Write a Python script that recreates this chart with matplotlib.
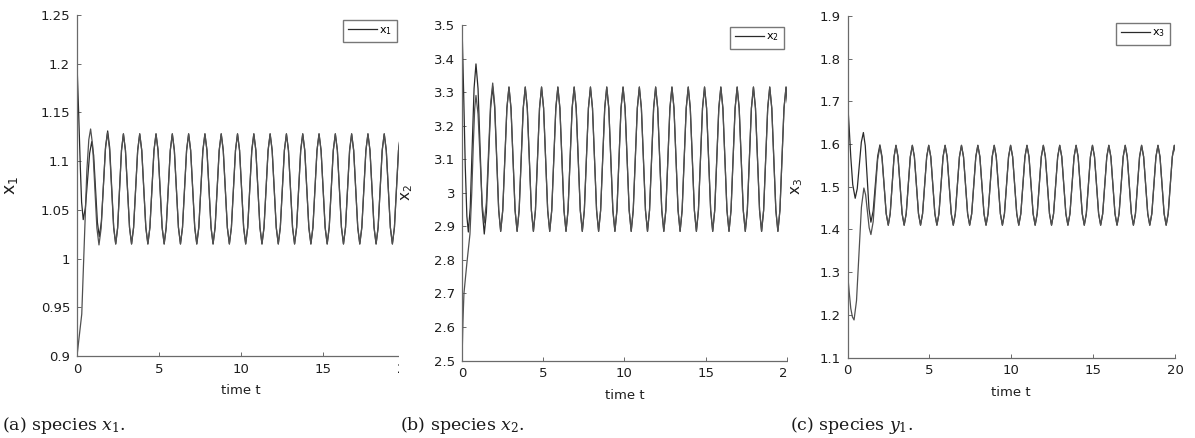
import numpy as np
import matplotlib
matplotlib.use('Agg')
import matplotlib.pyplot as plt
from matplotlib.patches import Rectangle

plt.rcParams['font.family'] = ['DejaVu Sans']
plt.rcParams['mathtext.fontset'] = 'dejavuserif'

# ---------------- data ----------------
xticks = [0, 5, 10, 15, 20]
xlabel = 'time t'

# panel (a): species x1
a_yticks = [0.9, 0.95, 1.0, 1.05, 1.1, 1.15, 1.2, 1.25]
a_yticklabels = ['0.9', '0.95', '1', '1.05', '1.1', '1.15', '1.2', '1.25']
a_tA = [0, 0.10, 0.20, 0.28, 0.38, 0.51, 0.64, 0.77, 0.90, 1.015, 1.13, 1.245, 1.36,
        1.4875, 1.615, 1.7425, 1.87, 1.9925, 2.115, 2.2375, 2.36, 2.4775, 2.595, 2.7125]
a_yA = [1.200, 1.150, 1.095, 1.058, 1.040, 1.052, 1.080, 1.108, 1.120, 1.106, 1.071, 1.037, 1.0225,
        1.038, 1.077, 1.115, 1.131, 1.114, 1.073, 1.032, 1.015, 1.0315, 1.0715, 1.111]
a_tB = [0, 0.29, 0.45, 0.60, 0.72, 0.83, 0.9575, 1.085, 1.2125, 1.34, 1.47, 1.60, 1.73, 1.86,
        1.985, 2.11, 2.235, 2.36, 2.4775, 2.595, 2.7125]
a_yB = [0.900, 0.943, 1.020, 1.090, 1.122, 1.133, 1.1156, 1.0735, 1.0314, 1.014, 1.0308, 1.0715, 1.112, 1.129,
        1.112, 1.072, 1.032, 1.015, 1.0315, 1.0715, 1.111]
a_tail_start, a_tail_step = 2.83, 0.12425
a_tail = [
    1.128, 1.111, 1.072, 1.032, 1.015, 1.032, 1.072, 1.111,
    1.128, 1.111, 1.072, 1.032, 1.015, 1.032, 1.072, 1.111,
    1.128, 1.111, 1.072, 1.032, 1.015, 1.032, 1.072, 1.111,
    1.128, 1.111, 1.072, 1.032, 1.015, 1.032, 1.072, 1.111,
    1.128, 1.111, 1.072, 1.032, 1.015, 1.032, 1.072, 1.111,
    1.128, 1.111, 1.072, 1.032, 1.015, 1.032, 1.072, 1.111,
    1.128, 1.111, 1.072, 1.032, 1.015, 1.032, 1.072, 1.111,
    1.128, 1.111, 1.072, 1.032, 1.015, 1.032, 1.072, 1.111,
    1.128, 1.111, 1.072, 1.032, 1.015, 1.032, 1.072, 1.111,
    1.128, 1.111, 1.072, 1.032, 1.015, 1.032, 1.072, 1.111,
    1.128, 1.111, 1.072, 1.032, 1.015, 1.032, 1.072, 1.111,
    1.128, 1.111, 1.072, 1.032, 1.015, 1.032, 1.072, 1.111,
    1.128, 1.111, 1.072, 1.032, 1.015, 1.032, 1.072, 1.111,
    1.128, 1.111, 1.072, 1.032, 1.015, 1.032, 1.072, 1.111,
    1.128, 1.111, 1.072, 1.032, 1.015, 1.032, 1.072, 1.111,
    1.128, 1.111, 1.072, 1.032, 1.015, 1.032, 1.072, 1.111,
    1.128, 1.111, 1.072, 1.032, 1.015, 1.032, 1.072, 1.111,
    1.128, 1.111, 1.072, 1.032]

# panel (b): species x2
b_yticks = [2.5, 2.6, 2.7, 2.8, 2.9, 3.0, 3.1, 3.2, 3.3, 3.4, 3.5]
b_yticklabels = ['2.5', '2.6', '2.7', '2.8', '2.9', '3', '3.1', '3.2', '3.3', '3.4', '3.5']
b_tA = [0, 0.10, 0.20, 0.30, 0.39, 0.5075, 0.625, 0.7425, 0.86, 0.9875, 1.115, 1.2425, 1.37,
        1.50, 1.63, 1.76, 1.89, 2.0125, 2.135, 2.2575, 2.38, 2.5075, 2.635, 2.7625]
b_yA = [3.500, 3.300, 3.080, 2.930, 2.883, 2.956, 3.1335, 3.311, 3.384, 3.310, 3.1305, 2.951, 2.877,
        2.941, 3.0965, 3.252, 3.316, 3.253, 3.1005, 2.948, 2.885, 2.948, 3.100, 3.252]
b_tB = [0, 0.06, 0.12, 0.30, 0.49, 0.60, 0.70, 0.78, 0.86, 0.9875, 1.115, 1.2425, 1.37,
        1.50, 1.63, 1.76, 1.89, 2.0125, 2.135, 2.2575, 2.38, 2.5075, 2.635, 2.7625]
b_yB = [2.500, 2.620, 2.700, 2.790, 2.877, 3.000, 3.150, 3.250, 3.290, 3.2345, 3.100, 2.9655, 2.910,
        2.971, 3.1185, 3.266, 3.327, 3.262, 3.106, 2.950, 2.885, 2.948, 3.100, 3.252]
b_tail_start, b_tail_step = 2.89, 0.125375
b_tail = [
    3.315, 3.252, 3.100, 2.948, 2.885, 2.948, 3.100, 3.252,
    3.315, 3.252, 3.100, 2.948, 2.885, 2.948, 3.100, 3.252,
    3.315, 3.252, 3.100, 2.948, 2.885, 2.948, 3.100, 3.252,
    3.315, 3.252, 3.100, 2.948, 2.885, 2.948, 3.100, 3.252,
    3.315, 3.252, 3.100, 2.948, 2.885, 2.948, 3.100, 3.252,
    3.315, 3.252, 3.100, 2.948, 2.885, 2.948, 3.100, 3.252,
    3.315, 3.252, 3.100, 2.948, 2.885, 2.948, 3.100, 3.252,
    3.315, 3.252, 3.100, 2.948, 2.885, 2.948, 3.100, 3.252,
    3.315, 3.252, 3.100, 2.948, 2.885, 2.948, 3.100, 3.252,
    3.315, 3.252, 3.100, 2.948, 2.885, 2.948, 3.100, 3.252,
    3.315, 3.252, 3.100, 2.948, 2.885, 2.948, 3.100, 3.252,
    3.315, 3.252, 3.100, 2.948, 2.885, 2.948, 3.100, 3.252,
    3.315, 3.252, 3.100, 2.948, 2.885, 2.948, 3.100, 3.252,
    3.315, 3.252, 3.100, 2.948, 2.885, 2.948, 3.100, 3.252,
    3.315, 3.252, 3.100, 2.948, 2.885, 2.948, 3.100, 3.252,
    3.315, 3.252, 3.100, 2.948, 2.885, 2.948, 3.100, 3.252,
    3.315, 3.252, 3.100, 2.948, 2.885, 2.948, 3.100, 3.252,
    3.315, 3.252]

# panel (c): species x3
c_yticks = [1.1, 1.2, 1.3, 1.4, 1.5, 1.6, 1.7, 1.8, 1.9]
c_yticklabels = ['1.1', '1.2', '1.3', '1.4', '1.5', '1.6', '1.7', '1.8', '1.9']
c_tA = [0, 0.10, 0.20, 0.32, 0.47, 0.595, 0.72, 0.845, 0.97, 1.085, 1.20, 1.315, 1.43,
        1.5675, 1.705, 1.8425, 1.98, 2.1075, 2.235, 2.3625, 2.49, 2.6075, 2.725, 2.8425]
c_yA = [1.703, 1.640, 1.570, 1.505, 1.473, 1.4955, 1.550, 1.6045, 1.627, 1.596, 1.522, 1.448, 1.417,
        1.4434, 1.5075, 1.5716, 1.598, 1.5706, 1.504, 1.4374, 1.410, 1.437, 1.5035, 1.570]
c_tB = [0, 0.10, 0.20, 0.30, 0.40, 0.55, 0.70, 0.85, 1.00, 1.1075, 1.215, 1.3225, 1.43,
        1.5675, 1.705, 1.8425, 1.98, 2.1075, 2.235, 2.3625, 2.49, 2.6075, 2.725, 2.8425]
c_yB = [1.299, 1.255, 1.215, 1.195, 1.188, 1.233, 1.3425, 1.452, 1.497, 1.481, 1.4425, 1.404, 1.388,
        1.418, 1.491, 1.564, 1.594, 1.567, 1.502, 1.437, 1.410, 1.437, 1.5035, 1.570]
c_tail_start, c_tail_step = 2.96, 0.125
c_tail = [
    1.597, 1.570, 1.504, 1.437, 1.410, 1.437, 1.504, 1.570,
    1.597, 1.570, 1.504, 1.437, 1.410, 1.437, 1.504, 1.570,
    1.597, 1.570, 1.504, 1.437, 1.410, 1.437, 1.504, 1.570,
    1.597, 1.570, 1.504, 1.437, 1.410, 1.437, 1.504, 1.570,
    1.597, 1.570, 1.504, 1.437, 1.410, 1.437, 1.504, 1.570,
    1.597, 1.570, 1.504, 1.437, 1.410, 1.437, 1.504, 1.570,
    1.597, 1.570, 1.504, 1.437, 1.410, 1.437, 1.504, 1.570,
    1.597, 1.570, 1.504, 1.437, 1.410, 1.437, 1.504, 1.570,
    1.597, 1.570, 1.504, 1.437, 1.410, 1.437, 1.504, 1.570,
    1.597, 1.570, 1.504, 1.437, 1.410, 1.437, 1.504, 1.570,
    1.597, 1.570, 1.504, 1.437, 1.410, 1.437, 1.504, 1.570,
    1.597, 1.570, 1.504, 1.437, 1.410, 1.437, 1.504, 1.570,
    1.597, 1.570, 1.504, 1.437, 1.410, 1.437, 1.504, 1.570,
    1.597, 1.570, 1.504, 1.437, 1.410, 1.437, 1.504, 1.570,
    1.597, 1.570, 1.504, 1.437, 1.410, 1.437, 1.504, 1.570,
    1.597, 1.570, 1.504, 1.437, 1.410, 1.437, 1.504, 1.570,
    1.597, 1.570, 1.504, 1.437, 1.410, 1.437, 1.504, 1.570,
    1.597, 1.570]

ylabels = [r'x$\mathregular{_1}$', r'x$\mathregular{_2}$', r'x$\mathregular{_3}$']
legend_labels = [r'x$\mathregular{_1}$', r'x$\mathregular{_2}$', r'x$\mathregular{_3}$']
captions = [r'(a) species $x_1$.', r'(b) species $x_2$.', r'(c) species $y_1$.']

# ---------------- layout (pixels) ----------------
W, H = 1195, 438
fig = plt.figure(figsize=(W / 100, H / 100), dpi=100)


def fx(px):
    return px / W


def fy(py):
    return 1 - py / H


panels = [
    dict(box=(77, 15, 405, 356), tA=a_tA, yA=a_yA, tB=a_tB, yB=a_yB,
         ts=a_tail_start, st=a_tail_step, tail=a_tail,
         yt=a_yticks, ytl=a_yticklabels, ylim=(0.9, 1.25),
         ylab_x=-0.175, ylab_fs=12.5, leg=(396.7, 20), cap_x=2,
         cover=(399, 10, 422, 392)),
    dict(box=(462, 25, 787, 360.5), tA=b_tA, yA=b_yA, tB=b_tB, yB=b_yB,
         ts=b_tail_start, st=b_tail_step, tail=b_tail,
         yt=b_yticks, ytl=b_yticklabels, ylim=(2.5, 3.5),
         ylab_x=-0.145, ylab_fs=11, leg=(784, 26.7), cap_x=400,
         cover=(788, 10, 812, 392)),
    dict(box=(847.5, 16, 1175, 357.5), tA=c_tA, yA=c_yA, tB=c_tB, yB=c_yB,
         ts=c_tail_start, st=c_tail_step, tail=c_tail,
         yt=c_yticks, ytl=c_yticklabels, ylim=(1.1, 1.9),
         ylab_x=-0.13, ylab_fs=11, leg=(1170, 22.7), cap_x=790,
         cover=None),
]

axes = []
for i, p in enumerate(panels):
    l, t, r, b = p['box']
    ax = fig.add_axes([fx(l), fy(b), (r - l) / W, (b - t) / H])
    axes.append(ax)
    tail_t = p['ts'] + p['st'] * np.arange(len(p['tail']))
    tA = np.concatenate([p['tA'], tail_t])
    yA = np.concatenate([p['yA'], p['tail']])
    tB = np.concatenate([p['tB'], tail_t])
    yB = np.concatenate([p['yB'], p['tail']])
    lineA, = ax.plot(tA, yA, color='#2a2a2a', lw=0.9)
    ax.plot(tB, yB, color='#505050', lw=0.9)

    ax.set_xlim(0, 20)
    ax.set_ylim(*p['ylim'])
    ax.set_xticks(xticks)
    ax.set_xticklabels([str(v) for v in xticks])
    ax.set_yticks(p['yt'])
    ax.set_yticklabels(p['ytl'])
    for s in ('top', 'right'):
        ax.spines[s].set_visible(False)
    for s in ('left', 'bottom'):
        ax.spines[s].set_color('#6a6a6a')
        ax.spines[s].set_linewidth(0.9)
    ax.tick_params(direction='in', length=3, width=0.7, color='#6a6a6a',
                   labelsize=9.5, labelcolor='#1e1e1e', pad=5)
    ax.set_xlabel(xlabel, fontsize=9.5, color='#1e1e1e', labelpad=6)
    ax.set_ylabel(ylabels[i], fontsize=p['ylab_fs'], color='#1e1e1e')
    ax.yaxis.set_label_coords(p['ylab_x'], 0.5)

    lx, ly = p['leg']
    ax.legend([lineA], [legend_labels[i]], loc='upper right',
              bbox_to_anchor=(fx(lx), fy(ly)), bbox_transform=fig.transFigure,
              borderaxespad=0, fancybox=False, edgecolor='#777777', framealpha=1,
              fontsize=8, handlelength=2.6, handletextpad=0.2, borderpad=0.45)

    fig.text(fx(p['cap_x']), fy(425), captions[i], fontsize=12.5,
             family='DejaVu Serif', va='center', ha='left', color='#1a1a1a')

# white strips imitating the cropped right edge of panels (a) and (b)
for i, p in enumerate(panels):
    if p['cover'] is None:
        continue
    x0, y0, x1, y1 = p['cover']
    rect = Rectangle((fx(x0), fy(y1)), (x1 - x0) / W, (y1 - y0) / H,
                     transform=fig.transFigure, facecolor='white',
                     edgecolor='none', zorder=0.5, clip_on=False)
    axes[i + 1].add_artist(rect)

fig.savefig('out.png', dpi=100)
